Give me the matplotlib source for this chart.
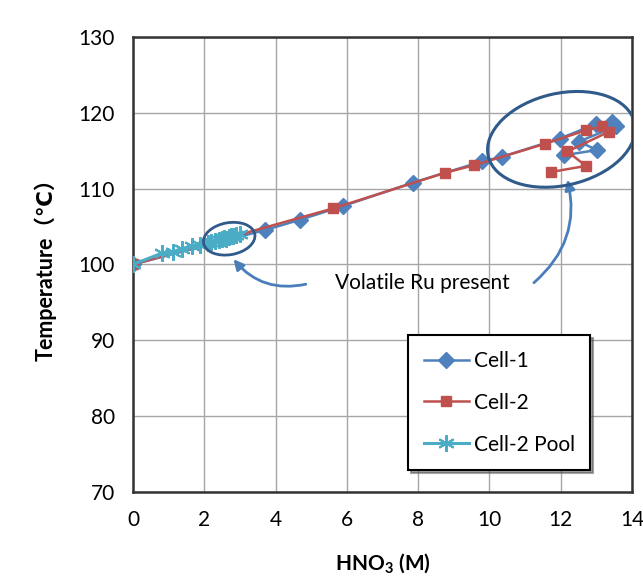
import matplotlib
matplotlib.use("Agg")
import matplotlib.pyplot as plt
from matplotlib.patches import Ellipse
from matplotlib.transforms import ScaledTranslation

plt.rcParams['font.family'] = ['Lato', 'DejaVu Sans', 'Noto Sans CJK JP']
plt.rcParams['mathtext.fontset'] = 'custom'
plt.rcParams['mathtext.rm'] = 'Lato'
plt.rcParams['mathtext.bf'] = 'Lato:bold'

# Cell-1 (blue diamonds)
cell1_x = [0, 3.71, 4.69, 5.89, 7.86, 9.8, 10.35, 11.97, 12.98, 13.44, 13.54, 12.51, 13.02, 12.09]
cell1_y = [100, 104.55, 105.9, 107.7, 110.8, 113.6, 114.2, 116.6, 118.5, 118.8, 118.2, 116.2, 115.1, 114.4]

# Cell-2 (red squares)
cell2_x = [0, 5.62, 8.76, 9.58, 11.55, 12.71, 13.17, 13.35, 12.19, 12.71, 11.73]
cell2_y = [100, 107.4, 112.1, 113.1, 115.9, 117.7, 118.2, 117.5, 114.9, 113.0, 112.2]

# Cell-2 Pool (cyan stars)
pool_x = [0, 0.81, 1.13, 1.37, 1.65, 1.88, 2.1, 2.2, 2.3, 2.4, 2.5, 2.55, 2.6, 2.7, 2.75, 2.8, 2.9, 3.0]
pool_y = [100, 101.5, 101.7, 102.1, 102.4, 102.6, 102.8, 103.0, 103.1, 103.2, 103.3, 103.5, 103.4, 103.6, 103.7, 103.8, 103.9, 104.0]

fig = plt.figure(figsize=(6.43, 5.76), dpi=100)
ax = fig.add_axes([0.2068, 0.1458, 0.776, 0.790])

ax.plot(cell1_x, cell1_y, color="#4F81BD", lw=1.8, marker="D", ms=8,
        mec="#4F81BD", mfc="#4F81BD", label="Cell-1", zorder=3)
ax.plot(cell2_x, cell2_y, color="#C0504D", lw=1.8, marker="s", ms=7,
        mec="#C0504D", mfc="#C0504D", label="Cell-2", zorder=4)
ax.plot(pool_x, pool_y, color="#4BACC6", lw=2.2, marker=(6, 2, 0), ms=12,
        mew=1.5, mec="#4BACC6", label="Cell-2 Pool", zorder=5)

ax.set_xlim(0, 14)
ax.set_ylim(70, 130)
ax.set_xticks(range(0, 15, 2))
ax.set_yticks(range(70, 131, 10))
ax.grid(True, color="#A6A6A6", lw=1)
ax.set_axisbelow(True)
ax.tick_params(length=0, labelsize=15, pad=13)
for s in ax.spines.values():
    s.set_color("#333333")
    s.set_linewidth(1.8)

ax.set_xlabel(r"HNO$_{\mathbf{3}}$ (M)", fontsize=15, fontweight="bold", labelpad=16)
ax.set_ylabel("Temperature（℃）", fontsize=15.5, fontweight="bold", labelpad=16)

# ellipses drawn in inches so they keep their shape
ell_col = "#2F5A8A"
small = Ellipse((0, 0), 0.52, 0.32, angle=10, fill=False, ec=ell_col, lw=2,
                transform=fig.dpi_scale_trans + ScaledTranslation(2.7, 103.4, ax.transData),
                zorder=6)
big = Ellipse((0, 0), 1.5, 0.92, angle=13, fill=False, ec=ell_col, lw=2.2,
              transform=fig.dpi_scale_trans + ScaledTranslation(12.02, 116.5, ax.transData),
              zorder=6)
ax.add_patch(small)
ax.add_patch(big)

ax.text(8.12, 97.6, "Volatile Ru present", fontsize=15, ha="center", va="center", zorder=7)
arrow_col = "#4A7EBB"
ax.annotate("", xy=(2.82, 100.7), xytext=(4.85, 97.4),
            arrowprops=dict(arrowstyle="-|>,head_length=0.6,head_width=0.3", color=arrow_col,
                            lw=2, connectionstyle="arc3,rad=-0.3", shrinkA=0, shrinkB=0))
ax.annotate("", xy=(12.19, 111.2), xytext=(11.25, 97.6),
            arrowprops=dict(arrowstyle="-|>,head_length=0.6,head_width=0.3", color=arrow_col,
                            lw=2, connectionstyle="arc3,rad=0.3", shrinkA=0, shrinkB=0))

leg = ax.legend(loc="lower left", bbox_to_anchor=(0.551, 0.048), borderaxespad=0,
                fontsize=15, labelspacing=1.05, handlelength=2.2, handletextpad=0.2,
                borderpad=0.75, fancybox=False, shadow=True, framealpha=1,
                edgecolor="black")
leg.get_frame().set_linewidth(1.5)

fig.savefig("out.png", dpi=100)
